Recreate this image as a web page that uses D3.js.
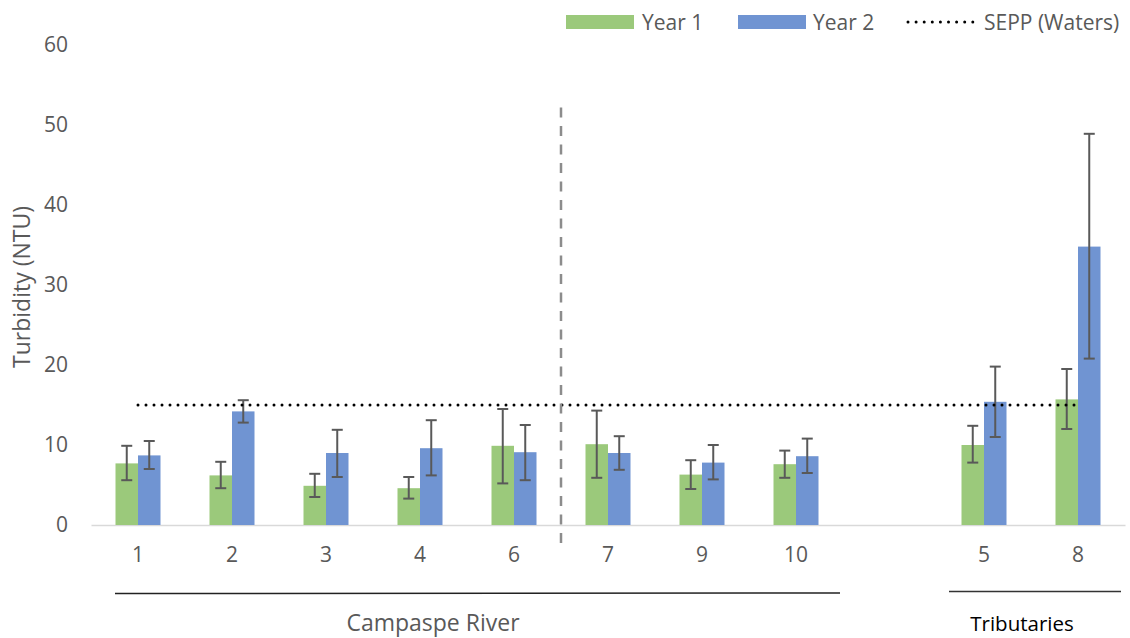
<!DOCTYPE html>
<html><head><meta charset="utf-8">
<script src="https://cdn.jsdelivr.net/npm/d3@7/dist/d3.min.js"></script>
<style>
html,body{margin:0;padding:0;background:#fff;}
svg{display:block;font-family:"Open Sans",sans-serif;}
</style></head>
<body><svg id="c" width="1130" height="638"></svg>
<script>
const categories = ["1","2","3","4","6","7","9","10","","5","8"];
const seriesNames = ["Year 1","Year 2"];
const year1 = [7.7, 6.2, 4.9, 4.6, 9.9, 10.1, 6.3, 7.6, null, 10.0, 15.7];
const year1Lo = [5.6, 4.6, 3.5, 3.3, 5.2, 5.9, 4.5, 5.9, null, 7.8, 12.0];
const year1Hi = [9.9, 7.9, 6.4, 6.0, 14.5, 14.3, 8.1, 9.3, null, 12.4, 19.5];
const year2 = [8.7, 14.2, 9.0, 9.6, 9.1, 9.0, 7.8, 8.6, null, 15.4, 34.8];
const year2Lo = [7.0, 12.8, 6.0, 6.2, 5.6, 6.9, 5.7, 6.5, null, 11.0, 20.8];
const year2Hi = [10.5, 15.6, 11.9, 13.1, 12.5, 11.1, 10.0, 10.8, null, 19.8, 48.9];
const sepp = 15;
const yTicks = [0,10,20,30,40,50,60];
const groupLabels = ["Campaspe River","Tributaries"];

const colors = {"Year 1":"#9bc97b","Year 2":"#7094d2"};
const svg = d3.select("#c");
const x = d3.scaleBand().domain(categories).range([91,1125]).padding(0);
const x1 = d3.scaleBand().domain(seriesNames).range([0,45]);
const y = d3.scaleLinear().domain([0,60]).range([525,45]);
const off = (x.bandwidth()-45)/2;

// y tick labels
const ya = svg.append("g").attr("transform","translate(68,0)")
  .call(d3.axisLeft(y).tickValues(yTicks).tickSize(0).tickPadding(0));
ya.select(".domain").remove();
ya.selectAll("text").attr("font-size",21).attr("fill","#595959").attr("font-family","Open Sans");

// x axis
const xa = svg.append("g").attr("transform","translate(0,525)")
  .call(d3.axisBottom(x).tickSize(0).tickPadding(22));
xa.select(".domain").attr("stroke","#d9d9d9").attr("stroke-width",1.5);
xa.selectAll("text").attr("font-size",21).attr("fill","#595959").attr("font-family","Open Sans");

// y title
svg.append("text").attr("transform","translate(30,287) rotate(-90)")
  .attr("text-anchor","middle").attr("font-size",23).attr("fill","#595959")
  .text("Turbidity (NTU)");

const series = [
  {name:"Year 1", v:year1, lo:year1Lo, hi:year1Hi},
  {name:"Year 2", v:year2, lo:year2Lo, hi:year2Hi}
];
series.forEach(s=>{
  const data = categories.map((c,i)=>({c, v:s.v[i], lo:s.lo[i], hi:s.hi[i]})).filter(d=>d.v!=null);
  svg.append("g").selectAll("rect").data(data).join("rect")
    .attr("x",d=>x(d.c)+off+x1(s.name))
    .attr("width",x1.bandwidth())
    .attr("y",d=>y(d.v)).attr("height",d=>y(0)-y(d.v))
    .attr("fill",colors[s.name]);
  const eg = svg.append("g").attr("stroke","#595959").attr("stroke-width",2);
  data.forEach(d=>{
    const cx = x(d.c)+off+x1(s.name)+x1.bandwidth()/2;
    eg.append("line").attr("x1",cx).attr("x2",cx).attr("y1",y(d.hi)).attr("y2",y(d.lo));
    eg.append("line").attr("x1",cx-5.5).attr("x2",cx+5.5).attr("y1",y(d.hi)).attr("y2",y(d.hi));
    eg.append("line").attr("x1",cx-5.5).attr("x2",cx+5.5).attr("y1",y(d.lo)).attr("y2",y(d.lo));
  });
});

// SEPP line
const line = d3.line().x(d=>x(d)+x.bandwidth()/2).y(()=>y(sepp));
svg.append("path").datum(categories).attr("d",line)
  .attr("fill","none").attr("stroke","#000").attr("stroke-width",3)
  .attr("stroke-linecap","round").attr("stroke-dasharray","0 8");

// divider dashed
const xd = x("7");
svg.append("line").attr("x1",xd).attr("x2",xd).attr("y1",y(52.2)).attr("y2",y(-2.9))
  .attr("stroke","#8c8c8c").attr("stroke-width",2.5).attr("stroke-dasharray","10 8.5");

// group lines & labels
svg.append("line").attr("x1",115).attr("x2",840).attr("y1",593.5).attr("y2",593)
  .attr("stroke","#222").attr("stroke-width",1.5);
svg.append("line").attr("x1",949).attr("x2",1121).attr("y1",591.5).attr("y2",591.5)
  .attr("stroke","#333").attr("stroke-width",1.5);
svg.append("text").attr("x",433).attr("y",631).attr("text-anchor","middle")
  .attr("font-size",23).attr("fill","#595959").text(groupLabels[0]);
svg.append("text").attr("x",1022).attr("y",631).attr("text-anchor","middle")
  .attr("font-size",20.5).attr("fill","#000").text(groupLabels[1]);

// legend
const lg = svg.append("g");
lg.append("rect").attr("x",566).attr("y",15).attr("width",68).attr("height",14).attr("fill",colors["Year 1"]);
lg.append("text").attr("x",642).attr("y",29.5).attr("font-size",21).attr("fill","#595959").text("Year 1");
lg.append("rect").attr("x",738).attr("y",15).attr("width",68).attr("height",14).attr("fill",colors["Year 2"]);
lg.append("text").attr("x",813).attr("y",29.5).attr("font-size",21).attr("fill","#595959").text("Year 2");
lg.append("line").attr("x1",908).attr("x2",973).attr("y1",22).attr("y2",22)
  .attr("stroke","#000").attr("stroke-width",3).attr("stroke-linecap","round").attr("stroke-dasharray","0 8.1");
lg.append("text").attr("x",984).attr("y",29.5).attr("font-size",21).attr("fill","#595959").text("SEPP (Waters)");
</script></body></html>
